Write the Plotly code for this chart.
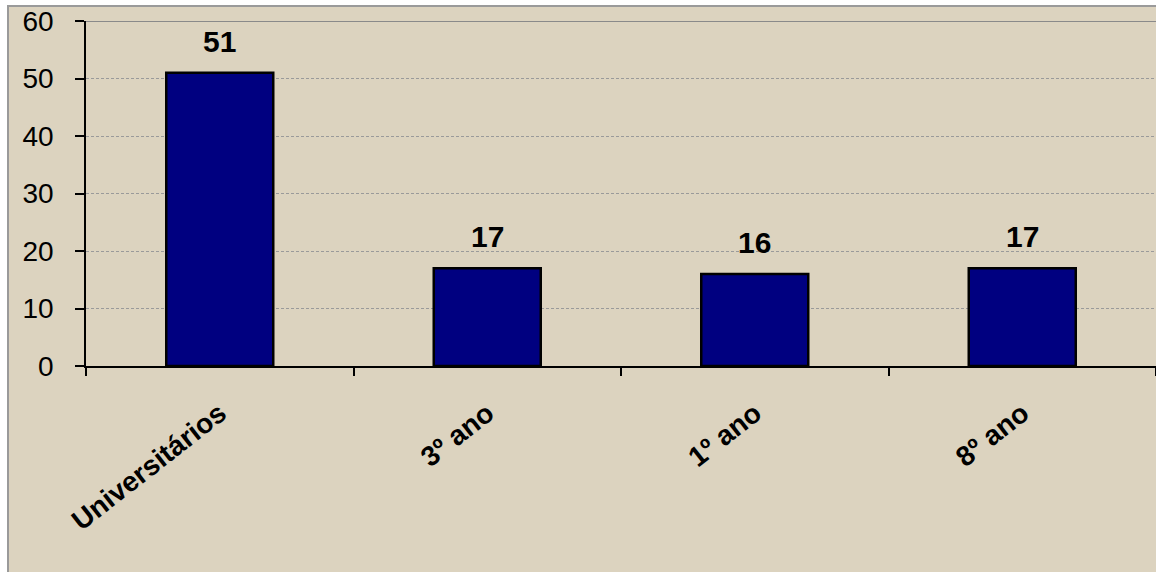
import plotly.graph_objects as go

# Respondent groups and counts
categories = ["Universitários", "3º ano", "1º ano", "8º ano"]
counts = [51, 17, 16, 17]
y_ticks = [0, 10, 20, 30, 40, 50, 60]

BEIGE = "#dcd3bf"
NAVY = "#000080"
FONT = "Liberation Sans, Arial, sans-serif"

fig = go.Figure(
    go.Bar(
        x=categories,
        y=counts,
        marker=dict(color=NAVY, line=dict(color="black", width=2.5)),
        width=0.4,
        hoverinfo="x+y",
    )
)

# Value labels above each bar
for cat, val in zip(categories, counts):
    fig.add_annotation(
        x=cat, y=val, text=f"<b>{val}</b>", showarrow=False,
        yanchor="bottom", yshift=13,
        font=dict(family=FONT, size=30, color="black"),
    )

W, H = 1156, 572
L, T, R, B = 86, 21, 0, 206
pw, ph = W - L - R, H - T - B

# Chart-area panel with grey frame (drawn beneath the plot)
fig.add_shape(
    type="rect", xref="paper", yref="paper", layer="below",
    x0=(8 - L) / pw, x1=(W + 6 - L) / pw,
    y0=-(B + 6) / ph, y1=(H - B - 6) / ph,
    fillcolor=BEIGE, line=dict(color="#9a9a9a", width=2),
)

# Solid top border of the plot area
fig.add_shape(
    type="line", xref="paper", yref="y", x0=0, x1=1, y0=60, y1=60,
    line=dict(color="#8a8a8a", width=2),
)

fig.update_layout(
    width=W, height=H,
    margin=dict(l=L, r=R, t=T, b=B),
    paper_bgcolor="white",
    plot_bgcolor="rgba(0,0,0,0)",
    showlegend=False,
    font=dict(family=FONT, color="black"),
    xaxis=dict(
        type="category",
        tickson="boundaries",
        ticks="outside", ticklen=8, tickwidth=1.5, tickcolor="black",
        showline=True, linecolor="black", linewidth=2,
        showgrid=False,
        tickangle=-38,
        ticklabelstandoff=18,
        tickfont=dict(family=FONT, size=28, color="black", weight="bold"),
        range=[-0.5, 3.5],
    ),
    yaxis=dict(
        range=[0, 60],
        tickvals=y_ticks,
        ticks="outside", ticklen=9, tickwidth=1.5, tickcolor="black",
        showline=True, linecolor="black", linewidth=1.5,
        showgrid=True, gridcolor="#9a9a9a", griddash="3px,2px", gridwidth=1,
        zeroline=False,
        ticklabelstandoff=16,
        tickfont=dict(family=FONT, size=28, color="black"),
    ),
)

fig.write_html("out.html")
